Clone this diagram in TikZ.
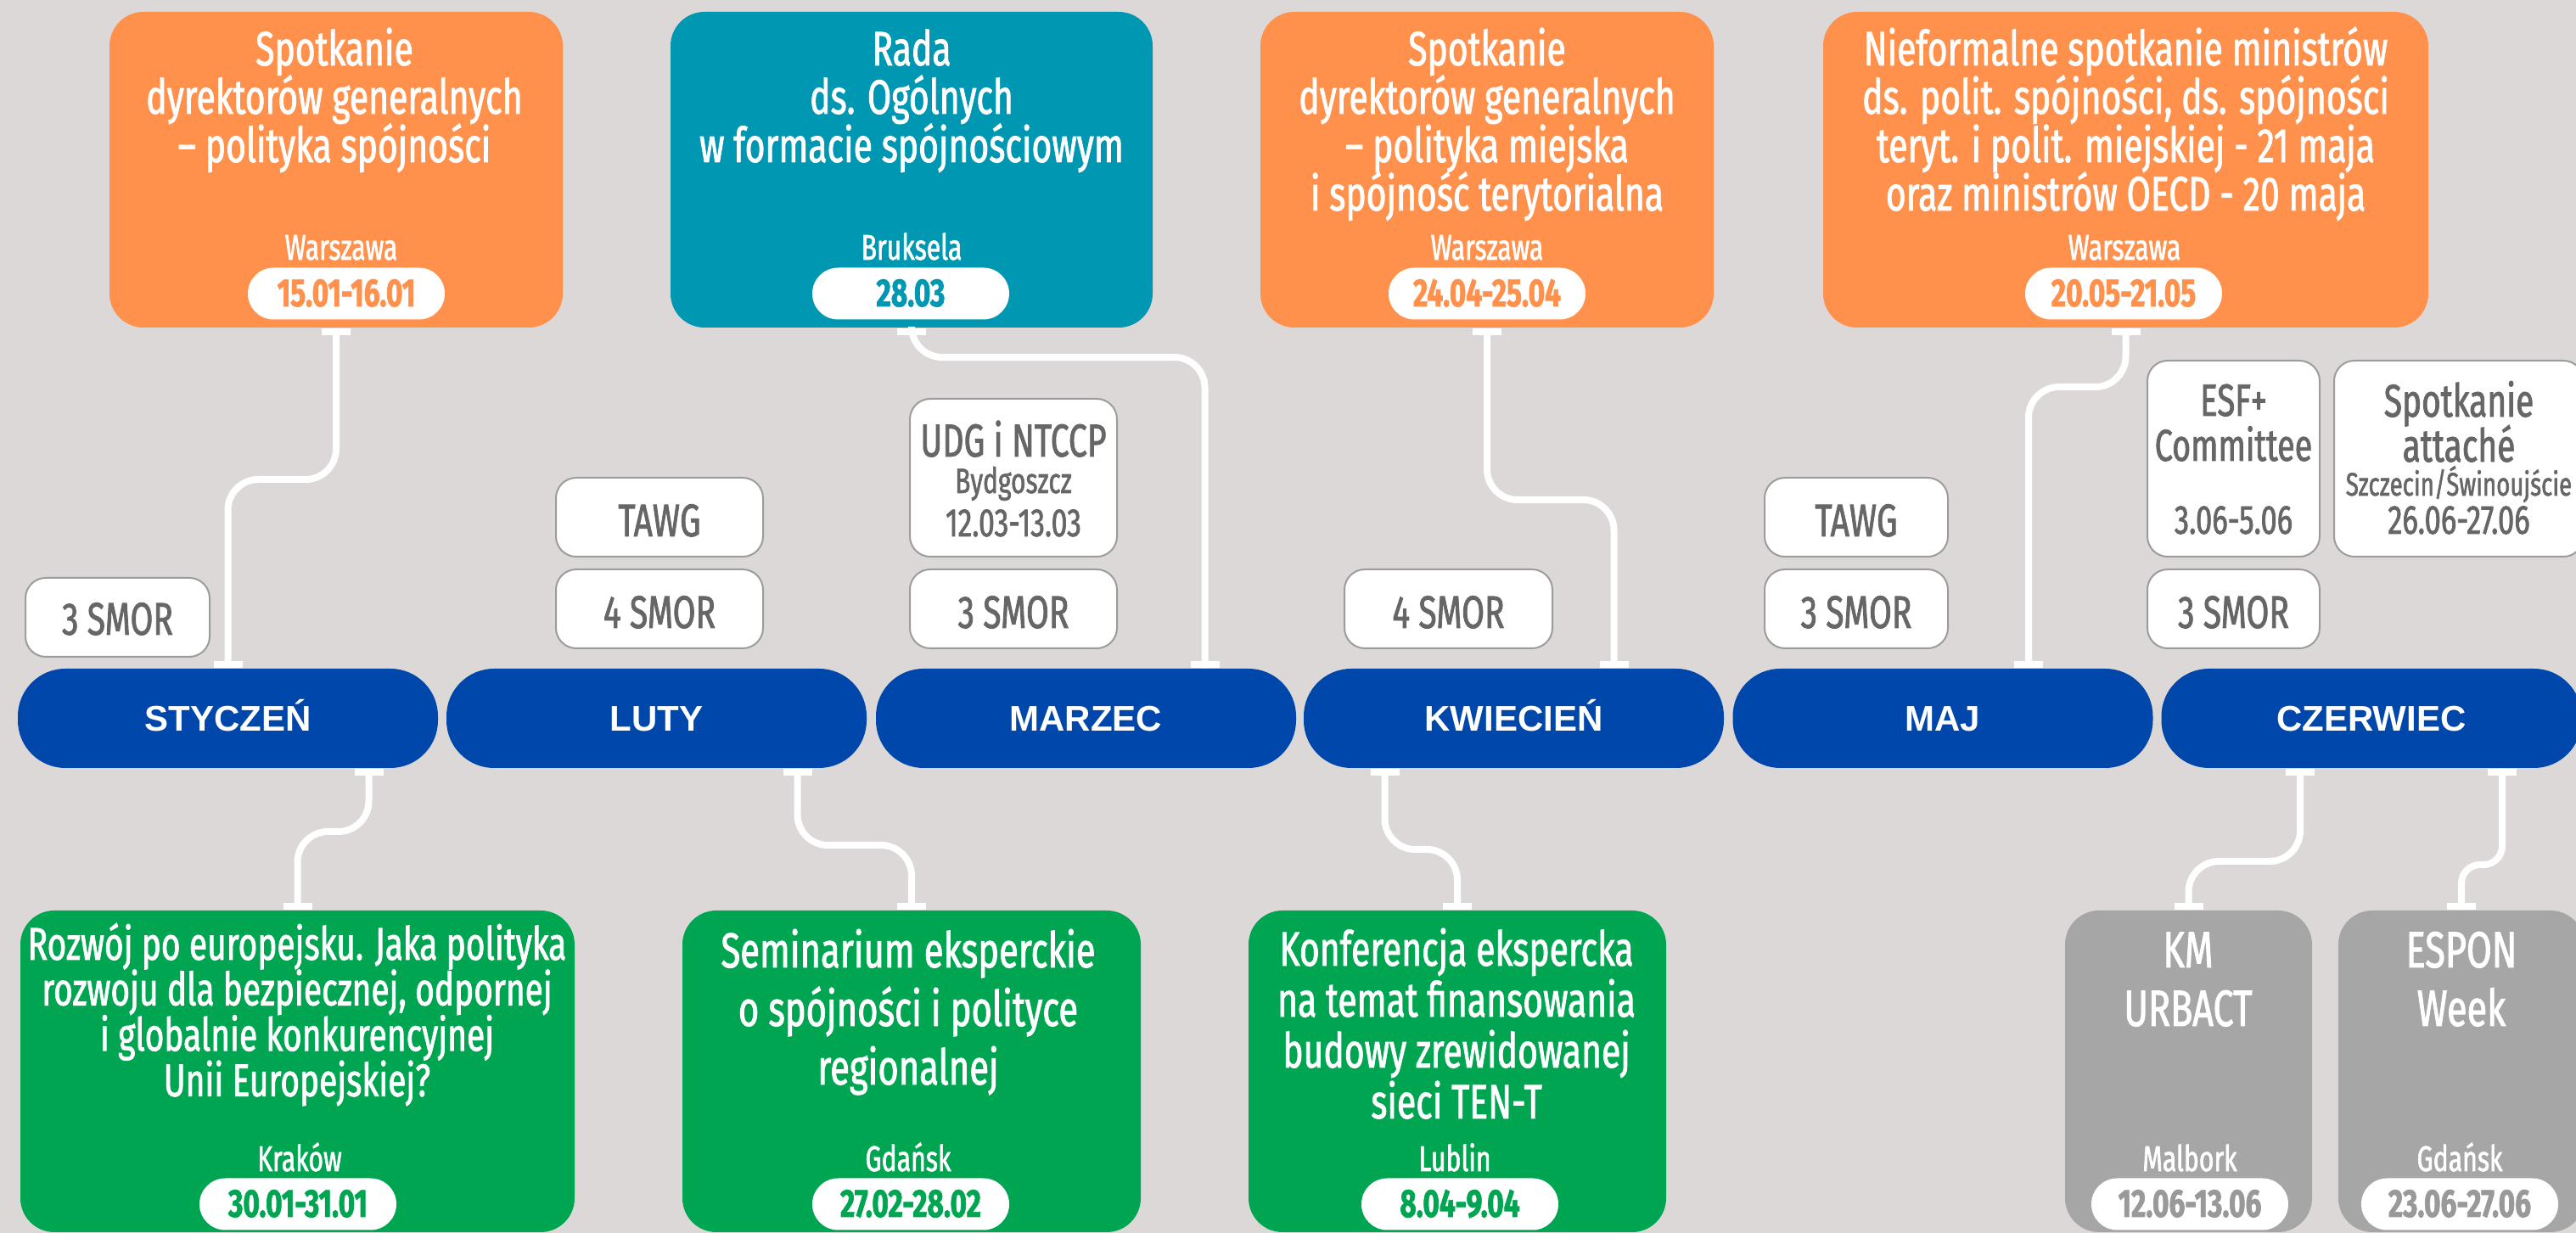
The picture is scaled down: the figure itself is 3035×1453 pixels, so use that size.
\documentclass[tikz,border=0pt]{standalone}
\usepackage{fontspec}
\setmainfont{Fira Sans}[FakeStretch=0.72, FakeBold=1.5]
\newfontfamily\datefont{Fira Sans}[FakeStretch=0.72, FakeBold=1.5]
\newfontfamily\barfont{Liberation Sans}
\usetikzlibrary{calc}
\definecolor{bg}{HTML}{DCD8D7}
\definecolor{orng}{HTML}{FF914D}
\definecolor{teal}{HTML}{0097B2}
\definecolor{grn}{HTML}{00A551}
\definecolor{gry}{HTML}{A6A6A6}
\definecolor{barblue}{HTML}{0047AB}
\definecolor{evtext}{HTML}{666666}
\definecolor{evborder}{HTML}{9C9C9C}
\definecolor{pillgrey}{HTML}{999999}
\newcommand\txtlines[6]{%
  \foreach \txtln [count=\ii] in {#6}{%
    \node[#5, anchor=base] (#1-\ii) at ({#2},{#3+(\ii-1)*#4}) {\txtln};}}
\newcommand\capbelow[1]{\fill[white] ($(#1)+(-17,0)$) rectangle ++(34,8);}
\newcommand\capabove[1]{\fill[white] ($(#1)+(-17,-8)$) rectangle ++(34,8);}
\tikzset{
  topbox/.style={rectangle, rounded corners=10pt, inner sep=0pt, minimum height=93pt},
  botbox/.style={rectangle, rounded corners=10pt, inner sep=0pt, minimum height=94.75pt},
  monthbar/.style={rectangle, rounded corners=14pt, fill=barblue, inner sep=0pt,
    minimum width=123.75pt, minimum height=29.25pt},
  evbox/.style={rectangle, rounded corners=6pt, fill=white, draw=evborder, line width=0.5pt,
    inner sep=0pt, minimum height=23.25pt},
  pill/.style={rectangle, rounded corners=7.6pt, fill=white, inner sep=0pt,
    minimum width=58pt, minimum height=15.25pt},
  conn/.style={draw=white, line width=2pt, rounded corners=9pt},
  ttl/.style={text=white, inner sep=0pt, font=\fontsize{14.2}{14.2}\selectfont},
  loc/.style={text=white, inner sep=0pt, font=\fontsize{10.5}{10.5}\selectfont},
  date/.style={inner sep=0pt, font=\datefont\bfseries\fontsize{11.6}{11.6}\selectfont},
  month/.style={text=white, inner sep=0pt, font=\barfont\bfseries\fontsize{10.5}{10.5}\selectfont},
  evt/.style={text=evtext, inner sep=0pt, font=\fontsize{13.5}{13.5}\selectfont},
}
\begin{document}
\begin{tikzpicture}[x=0.25pt, y=-0.25pt]
\useasboundingbox (0,0) rectangle (3035,1453);
\clip (0,0) rectangle (3035,1453);
\fill[bg] (0,0) rectangle (3035,1453);

% ---------- month bars ----------
\node[monthbar] (jan) at (268.5,846.5) {};
\node[monthbar] (feb) at (773.5,846.5) {};
\node[monthbar] (mar) at (1279.5,846.5) {};
\node[monthbar] (apr) at (1783.5,846.5) {};
\node[monthbar] (may) at (2289,846.5) {};
\node[monthbar] (jun) at (2794,846.5) {};
\node[month, anchor=base] (jan-t) at (268.5,861.5) {STYCZEŃ};
\node[month, anchor=base] (feb-t) at (773.5,861.5) {LUTY};
\node[month, anchor=base] (mar-t) at (1279.5,861.5) {MARZEC};
\node[month, anchor=base] (apr-t) at (1783.5,861.5) {KWIECIEŃ};
\node[month, anchor=base] (may-t) at (2289,861.5) {MAJ};
\node[month, anchor=base] (jun-t) at (2794,861.5) {CZERWIEC};

% ---------- top boxes ----------
\node[topbox, fill=orng, minimum width=133.5pt] (b1) at (396,200) {};
\node[topbox, fill=teal, minimum width=142pt] (b2) at (1074,200) {};
\node[topbox, fill=orng, minimum width=133.5pt] (b3) at (1752,200) {};
\node[topbox, fill=orng, minimum width=178.25pt] (b4) at (2504.5,200) {};

\txtlines{b1t}{394}{77}{57}{ttl}{Spotkanie,dyrektorów generalnych,– polityka spójności}
\txtlines{b2t}{1074}{77}{57}{ttl}{Rada,ds. Ogólnych,w formacie spójnościowym}
\txtlines{b3t}{1752}{77}{57}{ttl}{Spotkanie,dyrektorów generalnych,– polityka miejska,i spójność terytorialna}
\txtlines{b4t}{2504.5}{77}{57}{ttl}{Nieformalne spotkanie ministrów,{ds. polit. spójności, ds. spójności},teryt. i polit. miejskiej - 21 maja,oraz ministrów OECD - 20 maja}

\node[loc, anchor=base] (b1l) at (402,306) {Warszawa};
\node[loc, anchor=base] (b2l) at (1074,306) {Bruksela};
\node[loc, anchor=base] (b3l) at (1752,306) {Warszawa};
\node[loc, anchor=base] (b4l) at (2503,306) {Warszawa};

\node[pill] (p1) at (408,346) {};
\node[pill] (p2) at (1073,346) {};
\node[pill] (p3) at (1752,346) {};
\node[pill] (p4) at (2502,346) {};
\node[date, text=orng, anchor=base] (p1t) at (408,361) {15.01-16.01};
\node[date, text=teal, anchor=base] (p2t) at (1073,361) {28.03};
\node[date, text=orng, anchor=base] (p3t) at (1752,361) {24.04-25.04};
\node[date, text=orng, anchor=base] (p4t) at (2502,361) {20.05-21.05};

% ---------- bottom boxes ----------
\node[botbox, fill=grn, minimum width=163.25pt] (g1) at (350.5,1262.5) {};
\node[botbox, fill=grn, minimum width=135pt] (g2) at (1074,1262.5) {};
\node[botbox, fill=grn, minimum width=123pt] (g3) at (1717,1262.5) {};
\node[botbox, fill=gry, minimum width=72.75pt] (k1) at (2578.5,1262.5) {};
\node[botbox, fill=gry, minimum width=72.5pt] (k2) at (2900,1262.5) {};

\txtlines{g1t}{350}{1131}{53.6}{ttl, font=\fontsize{13.5}{13.5}\selectfont}{Rozwój po europejsku. Jaka polityka,{rozwoju dla bezpiecznej, odpornej},i globalnie konkurencyjnej,Unii Europejskiej?}
\txtlines{g2t}{1070}{1140}{69}{ttl, font=\fontsize{14.5}{14.5}\selectfont}{Seminarium eksperckie,o spójności i polityce,regionalnej}
\txtlines{g3t}{1716}{1138}{60}{ttl}{Konferencja ekspercka,na temat finansowania,budowy zrewidowanej,sieci TEN-T}
\txtlines{k1t}{2578}{1140}{69}{ttl, font=\fontsize{15}{15}\selectfont}{KM,URBACT}
\txtlines{k2t}{2900}{1140}{69}{ttl, font=\fontsize{15}{15}\selectfont}{ESPON,Week}

\node[loc, anchor=base] (g1l) at (353,1380) {Kraków};
\node[loc, anchor=base] (g2l) at (1070,1380) {Gdańsk};
\node[loc, anchor=base] (g3l) at (1714,1380) {Lublin};
\node[loc, anchor=base] (k1l) at (2580,1380) {Malbork};
\node[loc, anchor=base] (k2l) at (2898,1380) {Gdańsk};

\node[pill] (q1) at (351,1419) {};
\node[pill] (q2) at (1073,1419) {};
\node[pill] (q3) at (1720,1419) {};
\node[pill] (q4) at (2580,1419) {};
\node[pill] (q5) at (2898,1419) {};
\node[date, text=grn, anchor=base] (q1t) at (351,1434) {30.01-31.01};
\node[date, text=grn, anchor=base] (q2t) at (1073,1434) {27.02-28.02};
\node[date, text=grn, anchor=base] (q3t) at (1720,1434) {8.04-9.04};
\node[date, text=pillgrey, anchor=base] (q4t) at (2580,1434) {12.06-13.06};
\node[date, text=pillgrey, anchor=base] (q5t) at (2898,1434) {23.06-27.06};

% ---------- small event boxes ----------
\node[evbox, minimum width=54.25pt] (s1) at (138.5,727.5) {};
\node[evbox, minimum width=61pt] (s2) at (777,609.5) {};
\node[evbox, minimum width=61pt] (s3) at (777,717.5) {};
\node[evbox, minimum width=61pt, minimum height=46.5pt] (s4) at (1194,563) {};
\node[evbox, minimum width=61pt] (s5) at (1194,717.5) {};
\node[evbox, minimum width=61.25pt] (s6) at (1706.5,717.5) {};
\node[evbox, minimum width=54pt] (s7) at (2187,609.5) {};
\node[evbox, minimum width=54pt] (s8) at (2187,717.5) {};
\node[evbox, minimum width=50.75pt, minimum height=57.75pt] (s9) at (2631.5,540.5) {};
\node[evbox, minimum width=50.75pt] (s10) at (2631.5,717.5) {};
\node[evbox, minimum width=73.5pt, minimum height=57.75pt] (s11) at (2897,540.5) {};

\node[evt, anchor=base] (s1t) at (138.5,748) {3 SMOR};
\node[evt, anchor=base] (s2t) at (777,632) {TAWG};
\node[evt, anchor=base] (s3t) at (777,740) {4 SMOR};
\node[evt, anchor=base, font=\fontsize{13.6}{13.6}\selectfont] (s4t1) at (1194,538) {UDG i NTCCP};
\node[evt, anchor=base, font=\fontsize{10.4}{10.4}\selectfont] (s4t2) at (1194,581) {Bydgoszcz};
\node[evt, anchor=base, font=\fontsize{11.7}{11.7}\selectfont] (s4t3) at (1194,632) {12.03-13.03};
\node[evt, anchor=base] (s5t) at (1194,740) {3 SMOR};
\node[evt, anchor=base] (s6t) at (1706.5,740) {4 SMOR};
\node[evt, anchor=base] (s7t) at (2187,632) {TAWG};
\node[evt, anchor=base] (s8t) at (2187,740) {3 SMOR};
\node[evt, anchor=base, font=\fontsize{13.3}{13.3}\selectfont] (s9t1) at (2631.5,490) {ESF+};
\node[evt, anchor=base, font=\fontsize{13.1}{13.1}\selectfont] (s9t2) at (2631.5,543) {Committee};
\node[evt, anchor=base, font=\fontsize{12}{12}\selectfont] (s9t3) at (2631.5,629) {3.06-5.06};
\node[evt, anchor=base] (s10t) at (2631.5,740) {3 SMOR};
\node[evt, anchor=base] (s11t1) at (2897,491) {Spotkanie};
\node[evt, anchor=base] (s11t2) at (2897,544) {attaché};
\node[evt, anchor=base, font=\fontsize{9.6}{9.6}\selectfont] (s11t3) at (2897,584) {Szczecin/Świnoujście};
\node[evt, anchor=base, font=\fontsize{12}{12}\selectfont] (s11t4) at (2897,629) {26.06-27.06};

% ---------- connector end points ----------
\coordinate (mar-in) at ($(mar.north)+(140,0)$);
\coordinate (apr-in) at ($(apr.north)+(118,0)$);
\coordinate (may-in) at ($(may.north)+(101,0)$);
\coordinate (jan-out) at ($(jan.south)+(166,0)$);
\coordinate (feb-out) at ($(feb.south)+(166,0)$);
\coordinate (apr-out) at ($(apr.south)+(-152,0)$);
\coordinate (jun-out1) at ($(jun.south)+(-84,0)$);
\coordinate (jun-out2) at ($(jun.south)+(154,0)$);
\coordinate (h1) at (0,565);
\coordinate (h2) at (0,421);
\coordinate (h3) at (0,589);
\coordinate (h4) at (0,456);
\coordinate (h5) at (0,980);
\coordinate (h6) at (0,996);
\coordinate (h7) at (0,1001);
\coordinate (h8) at (0,1015);
\coordinate (h9) at (0,1019);

% ---------- connectors ----------
\draw[conn] (b1.south) -- (b1.south |- h1) -- (jan.north |- h1) -- (jan.north);
\draw[conn] (b2.south) -- (b2.south |- h2) -- (mar-in |- h2) -- (mar-in);
\draw[conn] (b3.south) -- (b3.south |- h3) -- (apr-in |- h3) -- (apr-in);
\draw[conn] (b4.south) -- (b4.south |- h4) -- (may-in |- h4) -- (may-in);
\draw[conn] (jan-out) -- (jan-out |- h5) -- (g1.north |- h5) -- (g1.north);
\draw[conn] (feb-out) -- (feb-out |- h6) -- (g2.north |- h6) -- (g2.north);
\draw[conn] (apr-out) -- (apr-out |- h7) -- (g3.north |- h7) -- (g3.north);
\draw[conn] (jun-out1) -- (jun-out1 |- h8) -- (k1.north |- h8) -- (k1.north);
\draw[conn, rounded corners=5.5pt] (jun-out2) -- (jun-out2 |- h9) -- (k2.north |- h9) -- (k2.north);

\capbelow{b1.south} \capbelow{b2.south} \capbelow{b3.south} \capbelow{b4.south}
\capbelow{jan-out} \capbelow{feb-out} \capbelow{apr-out} \capbelow{jun-out1} \capbelow{jun-out2}
\capabove{jan.north} \capabove{mar-in} \capabove{apr-in} \capabove{may-in}
\capabove{g1.north} \capabove{g2.north} \capabove{g3.north} \capabove{k1.north} \capabove{k2.north}
\end{tikzpicture}
\end{document}
